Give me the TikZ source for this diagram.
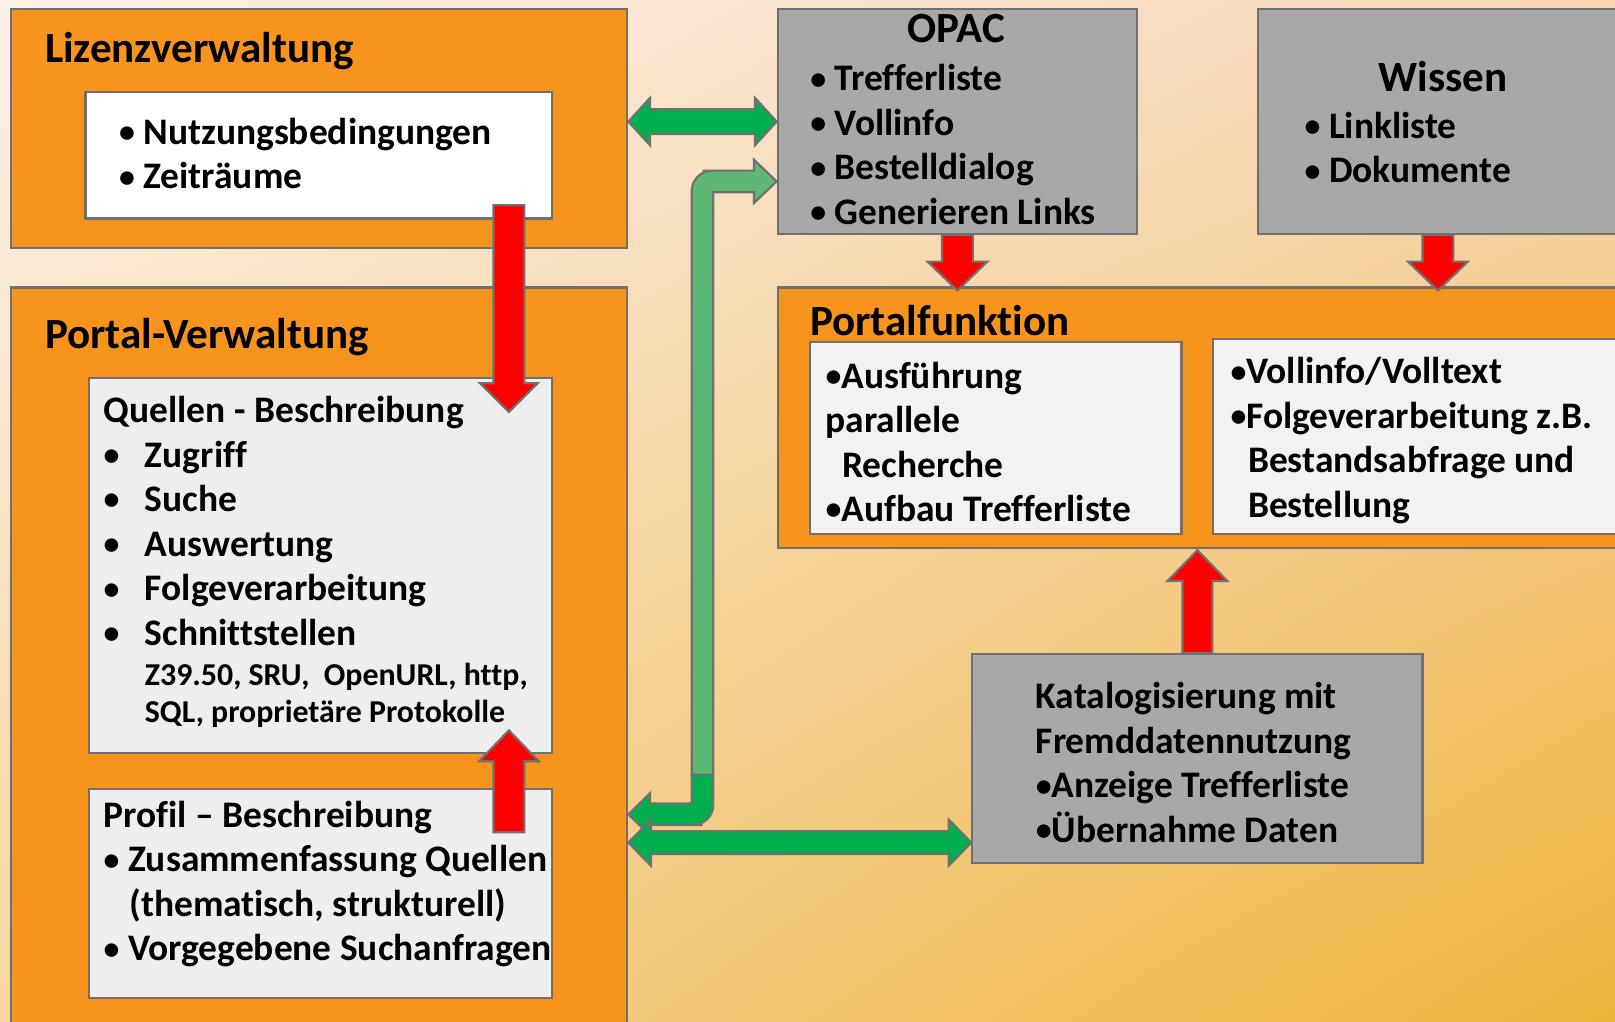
\documentclass[tikz,border=0pt]{standalone}
\usepackage{fontspec}
\setmainfont{Carlito}[Ligatures=CommonOff]
\usetikzlibrary{calc,shadings}

\definecolor{boxorange}{RGB}{247,148,30}
\definecolor{boxgrey}{RGB}{168,168,168}
\definecolor{lightbox}{RGB}{238,238,238}
\definecolor{pfbox}{RGB}{242,242,242}
\definecolor{edge}{RGB}{112,112,112}
\definecolor{arrowred}{RGB}{255,0,0}
\definecolor{darkgreen}{RGB}{0,176,80}
\definecolor{softgreen}{RGB}{92,184,116}
\definecolor{bgtl}{RGB}{252,241,230}
\definecolor{bgtr}{RGB}{247,214,182}
\definecolor{bgbl}{RGB}{246,214,162}
\definecolor{bgbr}{RGB}{237,180,58}

\def\bodyfont{\fontsize{10.35}{12.3}\selectfont\bfseries}
\def\titlefont{\fontsize{11.9}{14}\selectfont\bfseries}
\def\smallfont{\fontsize{8.8}{10.2}\selectfont\bfseries}
\def\bt{\raisebox{0.45pt}{\scalebox{0.85}{\textbullet}}}
\def\bul{\makebox[0.40cm][l]{\bt}}

% straight block arrows: start, tip, shaft half width, head half width, head length, style
\newcommand{\vblock}[6]{\filldraw[#6] ($(#1)+(-#3,0)$) -- ($(#2)+(-#3,#5)$) -- ($(#2)+(-#4,#5)$) -- (#2)
  -- ($(#2)+(#4,#5)$) -- ($(#2)+(#3,#5)$) -- ($(#1)+(#3,0)$) -- cycle;}
\newcommand{\hblock}[6]{\filldraw[#6] (#1) -- ($(#1)+(#5,#4)$) -- ($(#1)+(#5,#3)$) -- ($(#2)+(-#5,#3)$)
  -- ($(#2)+(-#5,#4)$) -- (#2) -- ($(#2)+(-#5,-#4)$) -- ($(#2)+(-#5,-#3)$) -- ($(#1)+(#5,-#3)$)
  -- ($(#1)+(#5,-#4)$) -- cycle;}

\tikzset{
  panel/.style={draw=edge, line width=0.6pt, fill=#1, anchor=north west, inner sep=0pt},
  panel/.default=boxorange,
  txt/.style={anchor=north west, inner sep=0pt, align=left, font=\bodyfont},
  ttl/.style={anchor=north west, inner sep=0pt, font=\titlefont},
  redarrow/.style={draw=edge, line width=0.6pt, fill=arrowred},
  greenarrow/.style={draw=edge, line width=0.6pt, fill=darkgreen},
  softarrow/.style={draw=edge, line width=0.6pt, fill=softgreen}
}

\begin{document}
\begin{tikzpicture}
  \useasboundingbox (0,-9.92) rectangle (15.68,0);
  \shade[upper left=bgtl, upper right=bgtr, lower left=bgbl, lower right=bgbr] (0,-9.92) rectangle (15.68,0);

  % left column
  \node[panel, minimum width=5.98cm, minimum height=2.32cm] (liz) at (0.10,-0.08) {};
  \node[ttl] (liztitle) at (0.43,-0.31) {Lizenzverwaltung};
  \node[panel=white, minimum width=4.53cm, minimum height=1.23cm] (lizinner) at (0.82,-0.88) {};
  \node[txt] (liztext) at (1.15,-1.14) {\bt\ Nutzungsbedingungen\\ \bt\ Zeiträume};

  \node[panel, minimum width=5.98cm, minimum height=7.40cm] (pverw) at (0.10,-2.78) {};
  \node[ttl] (pverwtitle) at (0.43,-3.08) {Portal-Verwaltung};
  \node[panel=lightbox, minimum width=4.50cm, minimum height=3.64cm] (quellen) at (0.85,-3.66) {};
  \node[txt] (quellentext) at (1.00,-3.84) {Quellen - Beschreibung\\ \bul Zugriff\\ \bul Suche\\
    \bul Auswertung\\ \bul Folgeverarbeitung\\ \bul Schnittstellen};
  \node[txt, font=\smallfont] (schnitt) at (1.40,-6.43) {Z39.50, SRU,\ \ OpenURL, http,\\ SQL, proprietäre Protokolle};
  \node[panel=lightbox, minimum width=4.50cm, minimum height=2.03cm] (profil) at (0.85,-7.65) {};
  \node[txt] (profiltext) at (1.00,-7.77) {Profil -- Beschreibung\\ \bt\ Zusammenfassung Quellen\\
    \hspace*{0.25cm}(thematisch, strukturell)\\ \bt\ Vorgegebene Suchanfragen};

  % right side
  \node[panel=boxgrey, minimum width=3.49cm, minimum height=2.18cm] (opac) at (7.54,-0.08) {};
  \node[ttl, anchor=north] (opactitle) at (9.285,-0.13) {OPAC};
  \node[txt] (opactext) at (7.86,-0.62) {\bt\ Trefferliste\\ \bt\ Vollinfo\\
    \bt\ Bestelldialog\\ \bt\ Generieren Links};

  \node[panel=boxgrey, minimum width=3.50cm, minimum height=2.18cm] (wissen) at (12.20,-0.08) {};
  \node[ttl, anchor=north] (wissentitle) at (14.01,-0.59) {Wissen};
  \node[txt] (wissentext) at (12.66,-1.08) {\bt\ Linkliste\\ \bt\ Dokumente};

  \node[panel, minimum width=8.30cm, minimum height=2.53cm] (pfunk) at (7.54,-2.78) {};
  \node[ttl] (pfunktitle) at (7.86,-2.96) {Portalfunktion};
  \node[panel=pfbox, minimum width=3.61cm, minimum height=1.86cm] (pfleft) at (7.85,-3.31) {};
  \node[txt] (pflefttext) at (8.01,-3.505) {\bt Ausführung\\ parallele\\ \hspace*{0.16cm}Recherche\\
    \bt Aufbau Trefferliste};
  \node[panel=pfbox, minimum width=4.10cm, minimum height=1.89cm] (pfright) at (11.77,-3.28) {};
  \node[txt] (pfrighttext) at (11.94,-3.465) {\bt Vollinfo/Volltext\\ \bt Folgeverarbeitung z.B.\\
    \hspace*{0.17cm}Bestandsabfrage und\\ \hspace*{0.17cm}Bestellung};

  \node[panel=boxgrey, minimum width=4.37cm, minimum height=2.03cm] (katalog) at (9.43,-6.34) {};
  \node[txt] (katalogtext) at (10.05,-6.62) {Katalogisierung mit\\ Fremddatennutzung\\
    \bt Anzeige Trefferliste\\ \bt Übernahme Daten};

  % arrow ends
  \coordinate (a1s) at ($(lizinner.south east)+(-0.43,0.14)$);
  \coordinate (a1t) at ($(quellen.north east)+(-0.43,-0.34)$);
  \coordinate (a2s) at ($(profil.north east)+(-0.43,-0.43)$);
  \coordinate (a2t) at ($(quellen.south east)+(-0.43,0.23)$);
  \coordinate (a3t) at ($(opac.south |- pfunk.north)+(0,-0.04)$);
  \coordinate (a4t) at ($(wissen.south |- pfunk.north)+(0,-0.04)$);
  \coordinate (a5t) at ($(katalog.north |- pfunk.south)+(0,-0.01)$);
  \coordinate (g1) at (opac.west -| liz.east);
  \coordinate (g2t) at ($(katalog.south west)+(0,0.21)$);
  \coordinate (g2) at (g2t -| pverw.east);
  \coordinate (mid) at ($(liz.east)!0.5!(opac.west)$);
  \coordinate (bend) at ($(mid |- quellen.south)+(0,-0.20)$);
  \coordinate (tip1) at ($(opac.south west)+(0,0.52)$);
  \coordinate (tip2) at ($(bend -| pverw.east)+(0,-0.385)$);

  % bent arrows
  \filldraw[greenarrow] ($(bend)+(-0.105,0)$) -- ($(bend)+(0.105,0)$) -- ($(bend|-tip2)+(0.105,0.2)$)
    [rounded corners=0.2cm] -- ($(bend|-tip2)+(0.105,-0.105)$) -- ($(bend|-tip2)+(-0.2,-0.105)$)
    [sharp corners] -- ($(tip2)+(0.21,-0.105)$) -- ($(tip2)+(0.21,-0.205)$) -- (tip2)
    -- ($(tip2)+(0.21,0.205)$) -- ($(tip2)+(0.21,0.105)$) -- ($(bend|-tip2)+(-0.105,0.105)$) -- cycle;
  \filldraw[softarrow] ($(bend)+(-0.105,0)$) -- ($(bend|-tip1)+(-0.105,-0.5)$)
    [rounded corners=0.2cm] -- ($(bend|-tip1)+(-0.105,0.105)$) -- ($(bend|-tip1)+(0.2,0.105)$)
    [sharp corners] -- ($(tip1)+(-0.22,0.105)$) -- ($(tip1)+(-0.22,0.21)$) -- (tip1)
    -- ($(tip1)+(-0.22,-0.21)$) -- ($(tip1)+(-0.22,-0.105)$) -- ($(bend|-tip1)+(0.105,-0.105)$)
    -- ($(bend)+(0.105,0)$) -- cycle;

  % straight arrows
  \hblock{g1}{opac.west}{0.12}{0.23}{0.21}{greenarrow}
  \hblock{g2}{g2t}{0.11}{0.225}{0.22}{greenarrow}
  \vblock{a1s}{a1t}{0.15}{0.28}{0.28}{redarrow}
  \vblock{a2s}{a2t}{0.15}{0.29}{-0.30}{redarrow}
  \vblock{opac.south}{a3t}{0.15}{0.29}{0.28}{redarrow}
  \vblock{wissen.south}{a4t}{0.15}{0.29}{0.28}{redarrow}
  \vblock{katalog.north}{a5t}{0.145}{0.29}{-0.30}{redarrow}
\end{tikzpicture}
\end{document}
